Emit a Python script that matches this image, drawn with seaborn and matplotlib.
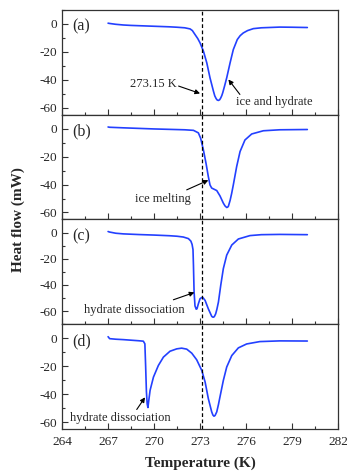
import numpy as np
import pandas as pd
import matplotlib
matplotlib.use("Agg")
import matplotlib.pyplot as plt
from matplotlib.ticker import MultipleLocator
import seaborn as sns

# curves: temperature (K) / heat flow (mW)
temp_a = [267.0, 267.1, 267.5, 268.0, 268.5, 269.0, 269.5, 270.0, 270.5, 271.0, 271.5, 272.0,
          272.35, 272.5, 272.67, 272.85, 273.0, 273.22, 273.44, 273.65, 273.87, 273.96, 274.05,
          274.12, 274.2, 274.28, 274.35, 274.42, 274.48, 274.6, 274.74, 274.96, 275.17, 275.43,
          275.62, 275.82, 276.1, 276.48, 277.0, 278.2, 279.0, 280.0]
flow_a = [0.5, 0.3, -0.3, -0.8, -1.1, -1.3, -1.5, -1.7, -1.9, -2.1, -2.4, -2.8,
          -3.6, -4.8, -7.6, -10.5, -13.6, -19.5, -27.9, -38.6, -48.0, -51.5, -53.5,
          -54.5, -54.8, -54.3, -53.0, -51.3, -49.3, -44.5, -38.6, -27.9, -18.4, -11.2,
          -8.4, -6.5, -4.8, -3.4, -2.8, -2.3, -2.4, -2.6]

temp_b = [267.0, 267.1, 268.0, 269.0, 270.0, 271.0, 272.0, 272.57, 272.89, 273.04, 273.22,
          273.39, 273.54, 273.65, 273.76, 273.87, 274.09, 274.3, 274.52, 274.63, 274.74,
          274.8, 274.85, 274.96, 275.06, 275.17, 275.39, 275.61, 275.93, 276.37, 277.13,
          278.2, 280.0]
flow_b = [1.2, 1.0, 0.6, 0.2, -0.2, -0.5, -0.8, -1.2, -3.0, -6.9, -15.3,
          -24.8, -34.3, -40.3, -42.5, -43.1, -44.3, -48.1, -53.3, -55.3, -56.4,
          -56.2, -55.5, -51.4, -46.5, -40.3, -27.1, -16.4, -8.1, -3.8, -1.5,
          -0.8, -0.6]

temp_c = [267.0, 267.1, 267.5, 268.0, 269.0, 270.0, 271.0, 271.5, 271.91, 272.24, 272.4,
          272.48, 272.54, 272.57, 272.61, 272.67, 272.75, 272.8, 272.89, 273.0, 273.12,
          273.2, 273.33, 273.54, 273.76, 273.82, 273.87, 273.93, 274.02, 274.1, 274.2,
          274.35, 274.52, 274.74, 275.07, 275.5, 276.26, 277.0, 278.2, 280.0]
flow_c = [0.8, 0.4, -0.5, -1.0, -1.5, -1.9, -2.4, -2.8, -3.4, -4.6, -6.5,
          -9.0, -13.0, -25.0, -45.0, -56.0, -58.5, -58.2, -54.4, -50.5, -49.5,
          -49.8, -51.8, -58.2, -63.9, -64.5, -64.6, -64.2, -62.0, -58.5, -53.0,
          -40.3, -27.5, -17.2, -9.5, -4.9, -2.3, -1.6, -1.4, -1.6]

temp_d = [267.0, 267.1, 267.5, 268.0, 268.5, 269.0, 269.3, 269.4, 269.45, 269.5, 269.55,
          269.6, 269.65, 269.74, 269.96, 270.28, 270.61, 271.04, 271.48, 271.8, 272.13,
          272.46, 272.78, 273.11, 273.33, 273.54, 273.76, 273.84, 273.91, 273.98, 274.09,
          274.2, 274.3, 274.52, 274.74, 275.07, 275.5, 276.04, 276.9, 278.2, 280.0]
flow_d = [1.1, -0.3, -0.7, -1.0, -1.4, -1.8, -2.1, -4.0, -20.0, -38.0, -47.0,
          -49.6, -45.0, -37.3, -27.8, -19.5, -13.5, -9.3, -7.6, -7.1, -7.8,
          -10.7, -15.4, -23.0, -31.3, -43.2, -52.7, -55.0, -55.8, -55.3, -52.7,
          -47.5, -42.0, -30.2, -20.6, -12.4, -6.9, -4.1, -2.4, -1.9, -2.0]

panel_labels = ["(a)", "(b)", "(c)", "(d)"]
y_limits = [(-65, 10), (-65, 10), (-70, 10), (-65, 10)]

# annotation text: (text, text_x, text_y, arrow_head_x, arrow_head_y, ha)
notes = [
    [("273.15 K", 271.5, -43, 273.0, -49.8, "right"),
     ("ice and hydrate", 275.35, -56, 274.85, -39.8, "left")],
    [("ice melting", 270.55, -50, 273.54, -36.9, "center")],
    [("hydrate dissociation", 268.7, -59, 272.63, -45.7, "center")],
    [("hydrate dissociation", 267.83, -57, 269.41, -42.3, "center")],
]
arrow_tails = [[(271.6, -44.5), (275.6, -50.5)], [(272.13, -43.8)],
               [(271.26, -51.3)], [(268.87, -51.0)]]

sns.set_style("ticks")
plt.rcParams["font.family"] = ["Liberation Serif", "DejaVu Serif"]
plt.rcParams["axes.unicode_minus"] = False

fig, axes = plt.subplots(4, 1, figsize=(3.47, 4.72), dpi=100, sharex=True)
fig.subplots_adjust(left=0.179, right=0.974, top=0.979, bottom=0.091, hspace=0)

curves = [(temp_a, flow_a), (temp_b, flow_b), (temp_c, flow_c), (temp_d, flow_d)]

for i, ax in enumerate(axes):
    df = pd.DataFrame({"T": curves[i][0], "Q": curves[i][1]})
    sns.lineplot(data=df, x="T", y="Q", ax=ax, color="#2340ff", lw=1.2,
                 estimator=None, sort=False)
    ax.axvline(273.15, color="black", ls=(0, (3, 2)), lw=0.9)
    ax.set_xlim(264, 282)
    ax.set_ylim(*y_limits[i])
    ax.set_xlabel("")
    ax.set_ylabel("")
    ax.yaxis.set_major_locator(MultipleLocator(20))
    ax.yaxis.set_minor_locator(MultipleLocator(10))
    ax.xaxis.set_major_locator(MultipleLocator(3))
    ax.xaxis.set_minor_locator(MultipleLocator(1.5))
    ax.tick_params(which="both", direction="in", top=False, right=False,
                   labelsize=9.5, color="#333333")
    ax.tick_params(which="major", length=4, width=0.8)
    ax.tick_params(which="minor", length=2, width=0.8)
    ax.tick_params(axis="x", pad=5)
    for sp in ax.spines.values():
        sp.set_visible(True)
        sp.set_color("#333333")
        sp.set_linewidth(0.9)
    ax.text(0.036, 0.84, panel_labels[i], transform=ax.transAxes,
            fontsize=11.5, va="center", ha="left")
    for n, (txt, tx, ty, hx, hy, ha) in enumerate(notes[i]):
        ax.text(tx, ty, txt, fontsize=9, ha=ha, va="center")
        ax.annotate("", xy=(hx, hy), xytext=arrow_tails[i][n],
                    arrowprops=dict(arrowstyle="-|>", color="black", lw=0.8,
                                    mutation_scale=7, shrinkA=0, shrinkB=0))

axes[-1].set_xlabel("Temperature (K)", fontsize=11, fontweight="bold", labelpad=6)
fig.text(0.052, 0.535, "Heat flow (mW)", rotation=90, fontsize=11,
         fontweight="bold", ha="center", va="center")

fig.savefig("out.png", dpi=100)
